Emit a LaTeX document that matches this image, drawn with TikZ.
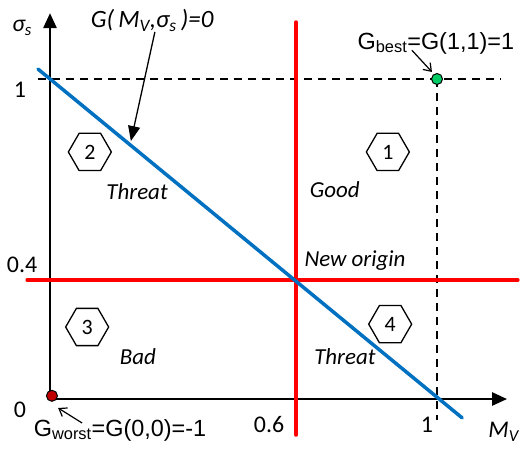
\documentclass[tikz,border=0pt]{standalone}
\usepackage{fontspec}
\setmainfont{Carlito}
\newfontfamily\arialfont{Liberation Sans}
\usetikzlibrary{shapes.geometric,arrows.meta}
\definecolor{redline}{RGB}{255,0,0}
\definecolor{blueline}{RGB}{0,112,192}
\definecolor{bestgreen}{RGB}{0,204,102}
\definecolor{worstred}{RGB}{192,0,0}
\begin{document}
\begin{tikzpicture}[x=387bp,y=320bp,
    hexnum/.style={draw,line width=1.3bp,regular polygon,regular polygon sides=6,
      minimum size=43bp,inner sep=0pt,font=\fontsize{22}{22}\selectfont},
    zone/.style={font=\fontsize{23}{26}\selectfont\itshape},
    ticklab/.style={font=\fontsize{24}{26}\selectfont},
    glab/.style={font=\fontsize{23.5}{26}\selectfont\arialfont}]
    \useasboundingbox (-0.1292,-0.1656) rectangle (1.2196,1.2469);
    % axes
    \draw[line width=2.6bp,-{Triangle[length=15bp,width=13bp]}] (0,0) -- (1.181,0);
    \draw[line width=2.6bp,-{Triangle[length=15bp,width=13bp]}] (0,0) -- (0,1.206);
    \node[ticklab] (sig) at (-0.072,1.159) {\textit{σ\textsubscript{s}}};
    \node[ticklab,inner sep=1bp] (mv) at (1.172,-0.103) {\textit{M\textsubscript{V}}};
    \node[ticklab] (y1) at (-0.0775,0.966) {1};
    \node[ticklab] (y04) at (-0.072,0.419) {0.4};
    \node[ticklab] (y0) at (-0.0775,-0.034) {0};
    \node[ticklab] (x06) at (0.566,-0.081) {0.6};
    \node[ticklab] (x1) at (0.974,-0.081) {1};
    % dashed guides
    \draw[dashed,line width=1.2bp,dash pattern=on 8bp off 6bp] (-0.031,1) -- (1.163,1);
    \draw[dashed,line width=1.2bp,dash pattern=on 8bp off 6bp] (1,1) -- (1,-0.066);
    % new axes
    \draw[redline,line width=3.5bp,line cap=round] (0.636,1.178) -- (0.636,-0.1125);
    \draw[redline,line width=3.5bp,line cap=round] (-0.059,0.372) -- (1.209,0.372);
    % G = 0 line
    \draw[blueline,line width=3.5bp,line cap=round] (-0.031,1.031) -- (1.065,-0.059);
    % points
    \filldraw[fill=bestgreen,draw=black,line width=1bp] (1,1) circle (5.5bp);
    \filldraw[fill=worstred,draw=black,line width=1bp] (0.005,0.01) circle (5.5bp);
    % zones
    \node[hexnum] (h1) at (0.873,0.772) {1};
    \node[hexnum] (h2) at (0.103,0.772) {2};
    \node[hexnum] (h3) at (0.096,0.225) {3};
    \node[hexnum] (h4) at (0.879,0.234) {4};
    \node[zone] (t2) at (0.225,0.647) {Threat};
    \node[zone] (g1) at (0.736,0.653) {Good};
    \node[zone] (b3) at (0.227,0.131) {Bad};
    \node[zone] (t4) at (0.762,0.131) {Threat};
    \node[zone] (neworig) at (0.788,0.434) {New origin};
    % labels with arrows
    \node[zone,font=\fontsize{25}{28}\selectfont\itshape] (gzero) at (0.264,1.184)
      {G(\,M\textsubscript{V},σ\textsubscript{s}\,)=0};
    \coordinate (gzeroend) at (0.209,0.806);
    \draw[line width=1.3bp,-{Triangle[length=15bp,width=12bp]}] (0.271,1.147) -- (gzeroend);
    \node[glab] (gbest) at (0.997,1.1125) {G\textsubscript{best}=G(1,1)=1};
    \coordinate (gbestend) at (0.987,1.022);
    \draw[line width=1.2bp,-{Straight Barb[length=7bp,width=10bp]}] (0.935,1.09) -- (gbestend);
    \node[glab] (gworst) at (0.181,-0.097) {G\textsubscript{worst}=G(0,0)=-1};
    \coordinate (gworstend) at (0.021,-0.028);
    \draw[line width=1.2bp,-{Straight Barb[length=7bp,width=10bp]}] (0.083,-0.075) -- (gworstend);
\end{tikzpicture}
\end{document}
